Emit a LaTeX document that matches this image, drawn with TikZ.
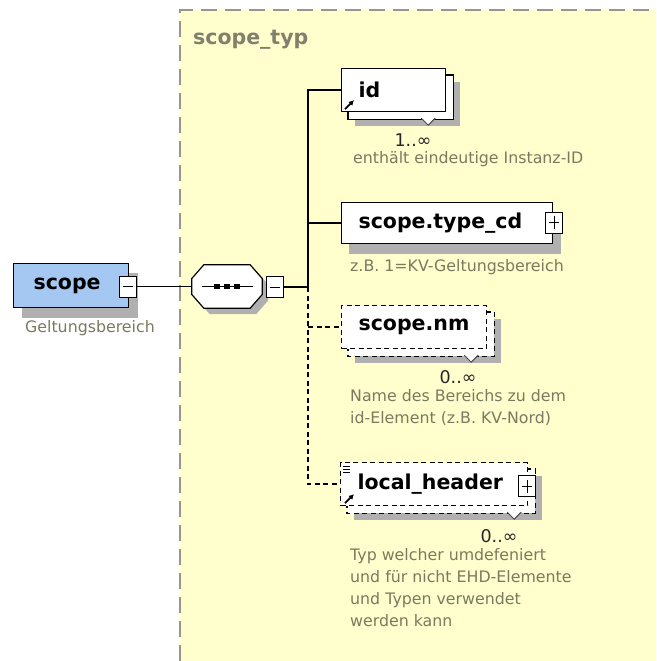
\documentclass[tikz,border=0pt]{standalone}
\usepackage{fontspec}
\setmainfont{DejaVu Sans}
\usetikzlibrary{calc,arrows.meta}
\pgfdeclarelayer{area}
\pgfdeclarelayer{shade}
\pgfdeclarelayer{stack}
\pgfsetlayers{area,shade,stack,main}
\definecolor{areafill}{RGB}{255,254,204}
\definecolor{areaborder}{RGB}{150,150,140}
\definecolor{titlegray}{RGB}{128,128,108}
\definecolor{notegray}{RGB}{122,122,96}
\definecolor{shadowgray}{RGB}{176,176,176}
\definecolor{elemblue}{RGB}{165,200,242}
\tikzset{
  elembox/.style={draw=black, line width=1.2pt, fill=white, anchor=north west,
    inner xsep=17pt, inner ysep=0pt, minimum height=43pt, align=left,
    font=\bfseries\fontsize{20.5}{22}\selectfont},
  optbox/.style={elembox, dash pattern=on 5pt off 3.5pt},
  backbox/.style={draw=black, fill=white, line width=1.2pt},
  optback/.style={backbox, dash pattern=on 5pt off 3.5pt},
  signbox/.style={draw=black, fill=white, line width=1pt, minimum width=17pt,
    minimum height=21pt, inner sep=0pt},
  minusbox/.style={signbox, path picture={\draw[line width=1pt]
    ([xshift=3.5pt]path picture bounding box.west) --
    ([xshift=-3.5pt]path picture bounding box.east);}},
  plusbox/.style={signbox, path picture={\draw[line width=1pt]
    ([xshift=3.5pt]path picture bounding box.west) --
    ([xshift=-3.5pt]path picture bounding box.east)
    ([yshift=-4pt]path picture bounding box.north) --
    ([yshift=4pt]path picture bounding box.south);}},
  note/.style={anchor=north west, inner sep=0pt, text=notegray, align=left,
    font=\fontsize{15.8}{22}\selectfont},
  mult/.style={anchor=base, inner sep=0pt, text=black!85,
    font=\fontsize{17.5}{18}\selectfont},
  wire/.style={line width=1.3pt, black},
  optwire/.style={wire, dash pattern=on 5pt off 3.5pt},
  shade/.style={fill=shadowgray},
  notch/.style={draw=black!70, line width=1pt},
  refarrow/.style={line width=1.8pt, -{Latex[length=5pt,width=5.5pt]}},
}
\begin{document}
\begin{tikzpicture}[x=1pt,y=-1pt]
\useasboundingbox (0,0) rectangle (656,661);

% complex type area
\begin{pgfonlayer}{area}
  \fill[white] (0,0) rectangle (656,661);
  \fill[areafill] (180,10) rectangle (656,661);
  \draw[areaborder, line width=1.5pt, dash pattern=on 16pt off 8pt]
    (180,661) -- (180,10) -- (656,10);
\end{pgfonlayer}
\node[anchor=base west, inner sep=0pt, text=titlegray,
  font=\bfseries\fontsize{20.5}{22}\selectfont] (typtitle) at (193,45) {scope\_typ};

% root element
\node[elembox, fill=elemblue, inner xsep=20pt, text width=75pt, minimum height=44pt]
  (scope) at (13,263) {scope};
\node[minusbox] (scopeminus) at (127.5,286.5) {};
\node[note] (scopenote) at (25,320) {Geltungsbereich};
\begin{pgfonlayer}{shade}
  \fill[shade] ($(scope.north west)+(9,10)$) rectangle ($(scope.south east)+(9,10)$);
\end{pgfonlayer}

% sequence compositor
\node[minimum width=70pt, minimum height=43pt, inner sep=0pt] (seq) at (227,286.5) {};
\begin{pgfonlayer}{shade}
  \fill[shade] ($(seq.west)+(6,-2)$) -- ($(seq.north west)+(18,6)$) --
    ($(seq.north east)+(-6,6)$) -- ($(seq.east)+(6,-2)$) -- ($(seq.east)+(6,14)$) --
    ($(seq.south east)+(-6,6)$) -- ($(seq.south west)+(18,6)$) -- ($(seq.west)+(6,14)$) -- cycle;
\end{pgfonlayer}
\draw[fill=white, line width=1.2pt] ($(seq.west)+(0,-8)$) -- ($(seq.north west)+(12,0)$) --
  ($(seq.north east)+(-12,0)$) -- ($(seq.east)+(0,-8)$) -- ($(seq.east)+(0,8)$) --
  ($(seq.south east)+(-12,0)$) -- ($(seq.south west)+(12,0)$) -- ($(seq.west)+(0,8)$) -- cycle;
\draw[line width=1.2pt] ($(seq.west)+(10,0)$) -- ($(seq.east)+(-9,0)$);
\foreach \dx in {-10,0,10}
  \fill ($(seq.center)+(\dx-2.6,-2.6)$) rectangle ($(seq.center)+(\dx+2.6,2.6)$);
\node[minusbox] (seqminus) at (275,287) {};

% child elements
\node[elembox, text width=70pt] (id) at (341,68) {id};
\node[elembox, text width=177pt, minimum height=41pt] (typecd) at (341,202) {scope.type\_cd};
\node[plusbox] (typecdplus) at (554,222.5) {};
\node[optbox, text width=111pt] (scopenm) at (341,305) {scope.nm};
\node[optbox, text width=153pt] (localheader) at (340,462) {local\_header};
\node[plusbox] (localheaderplus) at (527,486) {};

\begin{pgfonlayer}{shade}
  \fill[shade] ($(id.north west)+(14,14)$) rectangle ($(id.south east)+(14,14)$);
  \fill[shade] ($(typecd.north west)+(8,10)$) rectangle ($(typecd.south east)+(8,10)$);
  \fill[shade] ($(scopenm.north west)+(14,14)$) rectangle ($(scopenm.south east)+(14,14)$);
  \fill[shade] ($(localheader.north west)+(14,14)$) rectangle ($(localheader.south east)+(14,14)$);
\end{pgfonlayer}
\begin{pgfonlayer}{stack}
  \draw[backbox] ($(id.north west)+(7,7)$) rectangle ($(id.south east)+(7,7)$);
  \draw[optback] ($(scopenm.north west)+(7,7)$) rectangle ($(scopenm.south east)+(7,7)$);
  \draw[optback] ($(localheader.north west)+(7,7)$) rectangle ($(localheader.south east)+(7,7)$);
\end{pgfonlayer}

% occurrence notches
\foreach \n/\dx in {id/-18, scopenm/-16, localheader/-14} {
  \fill[white] ($(\n.south east)+(\dx-7,5)$) -- ($(\n.south east)+(\dx+7,5)$) --
    ($(\n.south east)+(\dx,13)$) -- cycle;
  \draw[notch] ($(\n.south east)+(\dx-7,6)$) --
    ($(\n.south east)+(\dx,13)$) -- ($(\n.south east)+(\dx+7,6)$);
}

% reference and type markers
\draw[refarrow] ($(id.south west)+(4,-3)$) -- ++(9,-9);
\draw[refarrow] ($(localheader.south west)+(5,-3)$) -- ++(9,-9);
\foreach \dy in {4,7,10}
  \draw[line width=1pt] ($(localheader.north west)+(3,\dy)$) -- ++(7,0);

% occurrences and annotations
\node[mult] (idmult) at (413,146) {1..∞};
\node[note] (idnote) at (353,151) {enthält eindeutige Instanz-ID};
\node[note] (typecdnote) at (350,259) {z.B. 1=KV-Geltungsbereich};
\node[mult] (scopenmmult) at (458,383) {0..∞};
\node[note] (scopenmnote) at (350,389) {Name des Bereichs zu dem\\id-Element (z.B. KV-Nord)};
\node[mult] (localheadermult) at (499,542) {0..∞};
\node[note] (localheadernote) at (350,548)
  {Typ welcher umdefeniert\\und für nicht EHD-Elemente\\und Typen verwendet\\werden kann};

% connectors
\coordinate (busjoin) at (308,287);
\draw[wire] (scopeminus.east) -- (scopeminus.east -| seq.west);
\draw[wire] (seqminus.east) -- (busjoin);
\draw[wire] (busjoin) -- (busjoin |- id.west) -- (id.west);
\draw[wire] (busjoin |- typecd.west) -- (typecd.west);
\draw[optwire] (busjoin) -- (busjoin |- localheader.west) -- (localheader.west);
\draw[optwire] (busjoin |- scopenm.west) -- (scopenm.west);
\end{tikzpicture}
\end{document}
